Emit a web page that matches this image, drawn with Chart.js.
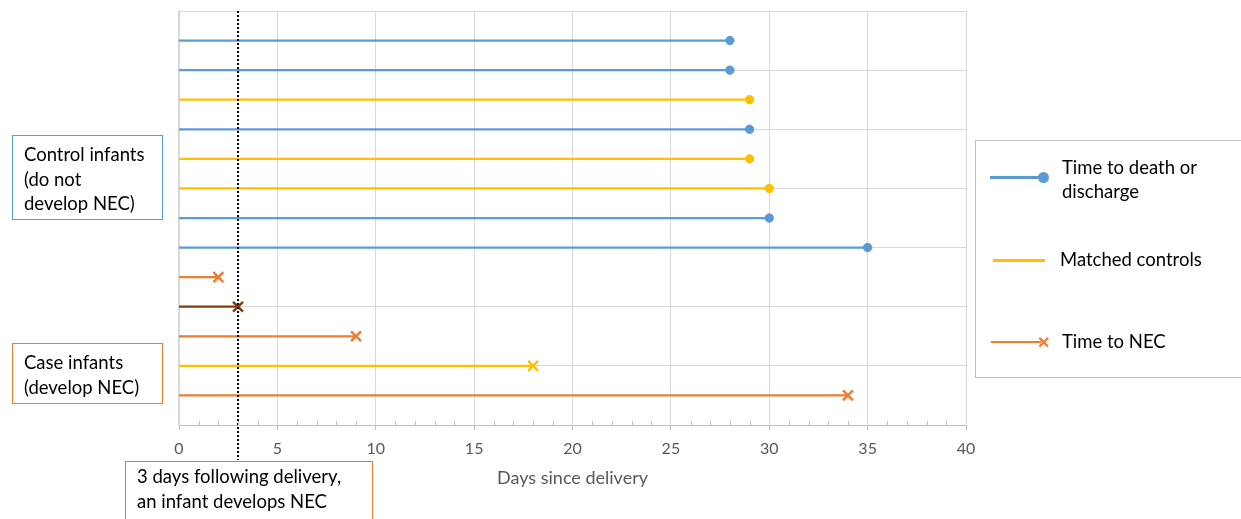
<!DOCTYPE html>
<html>
<head>
<meta charset="utf-8">
<script src="https://cdn.jsdelivr.net/npm/chart.js@4"></script>
<style>
  html, body { margin: 0; padding: 0; background: #fff; overflow: hidden; }
  body { width: 1241px; height: 519px; position: relative; font-family: Lato, sans-serif; color: #000; }
  #chart { position: absolute; left: 0; top: 0; }
  .box { position: absolute; box-sizing: border-box; background: transparent; font-size: 18.5px; line-height: 24.5px; }
  .lg { position: absolute; }
  .lgtext { position: absolute; font-size: 18.5px; line-height: 24px; }
</style>
</head>
<body>
<canvas id="chart" width="1241" height="519"></canvas>

<div class="box" style="left:12px;top:135px;width:151px;height:85px;border:1.5px solid #5B9BD5;padding:6px 0 0 11px;">Control infants<br>(do not<br>develop NEC)</div>
<div class="box" style="left:12px;top:343px;width:151px;height:61px;border:1.5px solid #ED7D31;padding:6px 0 0 11px;">Case infants<br>(develop NEC)</div>
<div class="box" style="left:125px;top:461px;width:248px;height:70px;border:1.5px solid #ED7D31;padding:2px 0 0 11px;">3 days following delivery,<br>an infant develops NEC</div>

<div class="box" style="left:975px;top:140px;width:290px;height:238px;border:1.5px solid #BFBFBF;"></div>
<div class="lg" style="left:990px;top:176px;width:52px;height:2.5px;background:#5B9BD5;"></div>
<div class="lg" style="left:1038px;top:172px;width:11px;height:11px;border-radius:50%;background:#5B9BD5;"></div>
<div class="lgtext" style="left:1062px;top:155px;">Time to death or<br>discharge</div>
<div class="lg" style="left:993px;top:259px;width:52px;height:2.5px;background:#FFC000;"></div>
<div class="lgtext" style="left:1060px;top:247px;">Matched controls</div>
<div class="lg" style="left:991px;top:341px;width:50px;height:2px;background:#ED7D31;"></div>
<div class="lg" style="left:1037px;top:330px;font-size:16px;font-weight:bold;color:#ED7D31;line-height:24px;">&#x2715;</div>
<div class="lgtext" style="left:1062px;top:329px;">Time to NEC</div>

<script>
// rows from top (y = 13) to bottom (y = 1)
const rowY = [13, 12, 11, 10, 9, 8, 7, 6, 5, 4, 3, 2, 1];
const endDay = [28, 28, 29, 29, 29, 30, 30, 35, 2, 3, 9, 18, 34];
const rowGroup = ["death", "death", "control", "death", "control", "control", "death", "death",
                  "nec", "example", "nec", "control", "nec"];
const rowMarker = ["circle", "circle", "circle", "circle", "circle", "circle", "circle", "circle",
                   "crossRot", "crossRot", "crossRot", "crossRot", "crossRot"];
const xTicks = [0, 5, 10, 15, 20, 25, 30, 35, 40];
const markDay = 3;

const colors = {
  death: "#5B9BD5",
  control: "#FFC000",
  nec: "#ED7D31",
  example: "#843C0C"
};

const datasets = [];
datasets.push({
  label: "3 days",
  data: [{ x: markDay, y: 14 }, { x: markDay, y: -1.18 }],
  showLine: true,
  borderColor: "#000",
  borderWidth: 2,
  borderDash: [2, 2],
  pointRadius: 0,
  clip: false,
  order: -1
});

rowY.forEach(function (y, i) {
  const c = colors[rowGroup[i]];
  const cross = rowMarker[i] === "crossRot";
  datasets.push({
    label: "row " + y,
    data: [{ x: 0, y: y }, { x: endDay[i], y: y }],
    showLine: true,
    borderColor: c,
    borderWidth: 2.25,
    pointRadius: [0, cross ? 7 : 4.2],
    pointStyle: rowMarker[i],
    pointBackgroundColor: c,
    pointBorderColor: c,
    pointBorderWidth: cross ? 2.5 : 1,
    clip: false
  });
});

// small ticks every day, drawn inside the plot above the axis
const minorTicks = {
  id: "minorTicks",
  afterDraw: function (chart) {
    const ctx = chart.ctx;
    const xs = chart.scales.x;
    const bottom = chart.chartArea.bottom;
    ctx.save();
    ctx.strokeStyle = "#BFBFBF";
    ctx.lineWidth = 1;
    for (let d = 0; d <= 40; d++) {
      if (d % 5 === 0) continue;
      const px = Math.round(xs.getPixelForValue(d)) + 0.5;
      ctx.beginPath();
      ctx.moveTo(px, bottom - 4);
      ctx.lineTo(px, bottom);
      ctx.stroke();
    }
    ctx.restore();
  }
};

new Chart(document.getElementById("chart"), {
  type: "scatter",
  data: { datasets: datasets },
  plugins: [minorTicks],
  options: {
    responsive: false,
    animation: false,
    layout: { padding: { left: 179, right: 275, top: 11, bottom: 0 } },
    plugins: { legend: { display: false }, tooltip: { enabled: false } },
    scales: {
      x: {
        type: "linear",
        min: 0,
        max: 40,
        afterBuildTicks: function (scale) {
          scale.ticks = xTicks.map(function (v) { return { value: v }; });
        },
        afterFit: function (scale) { scale.height = 94; },
        grid: { color: "#D9D9D9", tickColor: "#BFBFBF", tickLength: 5, lineWidth: 1 },
        border: { color: "#BFBFBF", width: 1 },
        ticks: {
          color: "#595959",
          font: { family: "Lato", size: 16 },
          padding: 9,
          maxRotation: 0,
          autoSkip: false
        },
        title: {
          display: true,
          text: "Days since delivery",
          color: "#595959",
          font: { family: "Lato", size: 18 },
          padding: { top: 4, bottom: 30 }
        }
      },
      y: {
        type: "linear",
        min: 0,
        max: 14,
        ticks: { display: false, stepSize: 2 },
        afterFit: function (scale) { scale.width = 0; },
        grid: { color: "#D9D9D9", drawTicks: false, lineWidth: 1 },
        border: { color: "#D9D9D9", width: 2 }
      }
    }
  }
});
</script>
</body>
</html>
